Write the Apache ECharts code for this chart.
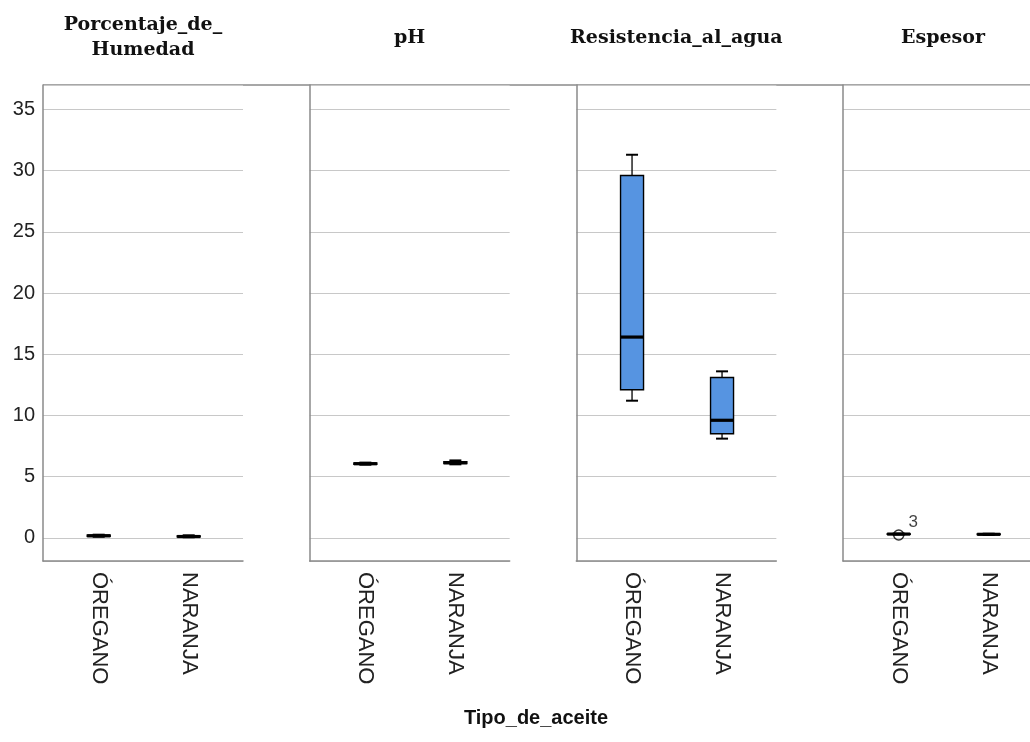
<!DOCTYPE html>
<html>
<head>
<meta charset="utf-8">
<script src="https://cdn.jsdelivr.net/npm/echarts@6/dist/echarts.min.js"></script>
<style>
  html, body { margin: 0; padding: 0; background: #fff; }
  #chart { width: 1030px; height: 742px; }
</style>
</head>
<body>
<div id="chart"></div>
<script>
// ---- Data ----
const categories = ['ÓREGANO', 'NARANJA'];
const variables = ['Porcentaje_de_\nHumedad', 'pH', 'Resistencia_al_agua', 'Espesor'];
const xAxisTitle = 'Tipo_de_aceite';

// [min, Q1, median, Q3, max] per category
const humedadStats     = [[0.08, 0.11, 0.16, 0.22, 0.25], [0.04, 0.07, 0.10, 0.15, 0.20]];
const phStats          = [[5.97, 6.00, 6.05, 6.11, 6.14], [6.00, 6.06, 6.13, 6.21, 6.32]];
const resistenciaStats = [[11.2, 12.1, 16.4, 29.6, 31.3], [8.1, 8.5, 9.6, 13.1, 13.6]];
const espesorStats     = [[0.26, 0.28, 0.30, 0.32, 0.34], [0.23, 0.26, 0.28, 0.31, 0.33]];
// outliers: [categoryIndex, value, caseLabel]
const espesorOutliers  = [[0, 0.22, '3']];

const allStats = [humedadStats, phStats, resistenciaStats, espesorStats];
const allOutliers = [[], [], [], espesorOutliers];

// y scale
const yMin = -1.9;
const yMax = 37;
const yStep = 5;

// ---- Layout / style ----
const PANEL_LEFT = 43, PANEL_STEP = 266.67, PANEL_W = 200;
const GRID_TOP = 85, GRID_H = 476;
const DATA_INSET = 10.7, DATA_W = 180;
const AXIS_COLOR = '#8a8a8a';
const GRIDLINE_COLOR = '#c8c8c8';
const BOX_COLOR = '#5694e1';
const TEXT_COLOR = '#222';

function renderBox(params, api) {
  const x = api.value(0);
  const c = v => api.coord([x, v]);
  const lo = c(api.value(1)), q1 = c(api.value(2)), med = c(api.value(3)),
        q3 = c(api.value(4)), hi = c(api.value(5));
  const cx = med[0];
  const bw = 23, cw = 12;
  const thin = { stroke: '#000', lineWidth: 1.3, fill: null };
  const cap = { stroke: '#000', lineWidth: 2, fill: null };
  return {
    type: 'group',
    children: [
      { type: 'line', shape: { x1: cx, y1: q3[1], x2: cx, y2: hi[1] }, style: thin },
      { type: 'line', shape: { x1: cx, y1: q1[1], x2: cx, y2: lo[1] }, style: thin },
      { type: 'line', shape: { x1: cx - cw / 2, y1: hi[1], x2: cx + cw / 2, y2: hi[1] }, style: cap },
      { type: 'line', shape: { x1: cx - cw / 2, y1: lo[1], x2: cx + cw / 2, y2: lo[1] }, style: cap },
      { type: 'rect', shape: { x: cx - bw / 2, y: q3[1], width: bw, height: q1[1] - q3[1] },
        style: { fill: BOX_COLOR, stroke: '#000', lineWidth: 1.4 } },
      { type: 'line', shape: { x1: cx - bw / 2, y1: med[1], x2: cx + bw / 2, y2: med[1] },
        style: { stroke: '#000', lineWidth: 3.2, fill: null } }
    ]
  };
}

const grid = [], xAxis = [], yAxis = [], series = [], graphic = [];

variables.forEach((name, i) => {
  const L = PANEL_LEFT + i * PANEL_STEP;
  const fi = 2 * i, di = 2 * i + 1;
  grid.push({ left: L, top: GRID_TOP, width: PANEL_W, height: GRID_H, outerBoundsMode: 'none', containLabel: false });
  grid.push({ left: L + DATA_INSET, top: GRID_TOP, width: DATA_W, height: GRID_H, outerBoundsMode: 'none', containLabel: false });

  xAxis.push({
    gridIndex: fi, type: 'value', min: 0, max: 1,
    axisLine: { show: true, onZero: false, lineStyle: { color: AXIS_COLOR, width: 1.5 } },
    axisTick: { show: false }, axisLabel: { show: false }, splitLine: { show: false }
  });
  xAxis.push({
    gridIndex: di, type: 'category', data: categories, boundaryGap: true,
    axisLine: { show: false, onZero: false }, axisTick: { show: false },
    axisLabel: { rotate: -90, fontSize: 22, color: TEXT_COLOR, margin: 11, fontFamily: 'Liberation Sans' },
    splitLine: { show: false }
  });

  yAxis.push({
    gridIndex: fi, type: 'value', min: yMin, max: yMax, minInterval: yStep, maxInterval: yStep,
    axisLine: { show: true, lineStyle: { color: AXIS_COLOR, width: 1.5 } },
    axisTick: { show: false },
    axisLabel: { show: i === 0, showMinLabel: false, showMaxLabel: false, fontSize: 20,
                 color: TEXT_COLOR, margin: 8, fontFamily: 'Liberation Sans' },
    splitLine: { show: true, lineStyle: { color: GRIDLINE_COLOR, width: 1.2 } }
  });
  yAxis.push({ gridIndex: di, type: 'value', min: yMin, max: yMax, show: false, splitLine: { show: false } });

  series.push({
    type: 'custom', xAxisIndex: di, yAxisIndex: di,
    renderItem: renderBox,
    encode: { x: 0, y: [1, 2, 3, 4, 5] },
    data: allStats[i].map((s, k) => [k].concat(s)),
    z: 5
  });

  if (allOutliers[i].length) {
    series.push({
      type: 'scatter', xAxisIndex: di, yAxisIndex: di,
      data: allOutliers[i],
      symbol: 'circle', symbolSize: 10,
      itemStyle: { color: 'rgba(255,255,255,0)', borderColor: '#000', borderWidth: 1.5 },
      label: { show: true, position: 'right', distance: 4, offset: [0, -13],
               formatter: p => p.value[2], fontSize: 17, color: '#111', fontFamily: 'Liberation Sans' },
      z: 6
    });
  }

  graphic.push({
    type: 'text', x: L + PANEL_W / 2, y: 38,
    style: { text: name, font: 'bold 19px "DejaVu Serif"', fill: '#111',
             textAlign: 'center', align: 'center', textVerticalAlign: 'middle', verticalAlign: 'middle',
             lineHeight: 25 }
  });
});

// continuous top border
graphic.push({
  type: 'line', shape: { x1: PANEL_LEFT, y1: GRID_TOP, x2: 1030, y2: GRID_TOP },
  style: { stroke: AXIS_COLOR, lineWidth: 1.5 }
});
// x-axis title
graphic.push({
  type: 'text', x: 536, y: 718,
  style: { text: xAxisTitle, font: 'bold 20px "Liberation Sans"', fill: '#111',
           textAlign: 'center', align: 'center', textVerticalAlign: 'middle', verticalAlign: 'middle' }
});

const chart = echarts.init(document.getElementById('chart'), null, { renderer: 'canvas' });
chart.setOption({
  backgroundColor: '#fff',
  animation: false,
  grid, xAxis, yAxis, series, graphic
});
</script>
</body>
</html>
